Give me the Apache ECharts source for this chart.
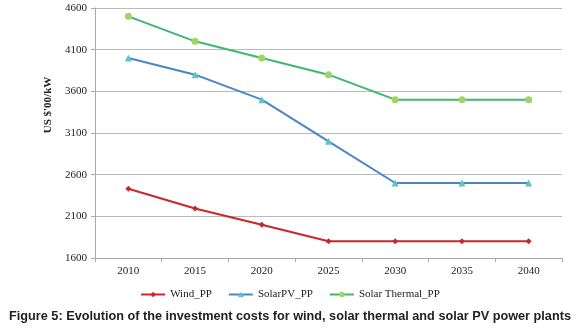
<!DOCTYPE html>
<html>
<head>
<meta charset="utf-8">
<script src="https://cdn.jsdelivr.net/npm/echarts@6/dist/echarts.min.js"></script>
<style>
html,body{margin:0;padding:0;background:#fff;}
#c{width:580px;height:330px;}
</style>
</head>
<body>
<div id="c"></div>
<script>
var years = ['2010','2015','2020','2025','2030','2035','2040'];
var windPP = [2430, 2195, 2000, 1800, 1800, 1800, 1800];
var solarPV = [4000, 3800, 3500, 3000, 2500, 2500, 2500];
var solarThermal = [4500, 4200, 4000, 3800, 3500, 3500, 3500];
var yTicks = {min: 1600, max: 4600, interval: 500};

var chart = echarts.init(document.getElementById('c'));
var serif = 'Liberation Serif';
chart.setOption({
  animation: false,
  backgroundColor: '#fff',
  grid: {left: 95, right: 18, top: 8, bottom: 72},
  title: {
    text: 'Figure 5: Evolution of the investment costs for wind, solar thermal and solar PV power plants',
    left: 'center', top: 305,
    textStyle: {fontFamily: 'Liberation Sans', fontWeight: 'bold', fontSize: 12.7, color: '#222'}
  },
  legend: {
    top: 284, left: 'center', itemGap: 16, itemWidth: 24, itemHeight: 7,
    textStyle: {fontFamily: serif, fontSize: 11, color: '#222'},
    data: ['Wind_PP', 'SolarPV_PP', 'Solar Thermal_PP']
  },
  xAxis: {
    type: 'category', data: years, boundaryGap: true,
    axisLine: {lineStyle: {color: '#aaa'}},
    axisTick: {show: true, length: 4, lineStyle: {color: '#aaa'}},
    axisLabel: {fontFamily: serif, fontSize: 11, color: '#222', margin: 8}
  },
  yAxis: {
    type: 'value', min: yTicks.min, max: yTicks.max, interval: yTicks.interval,
    name: "US $'00/kW", nameLocation: 'middle', nameGap: 38, nameRotate: 90,
    nameTextStyle: {fontFamily: serif, fontWeight: 'bold', fontSize: 11, color: '#222',
                    padding: [0, 0, 0, 56]},
    axisLine: {show: true, lineStyle: {color: '#aaa'}},
    axisTick: {show: true, length: 4, lineStyle: {color: '#aaa'}},
    axisLabel: {fontFamily: serif, fontSize: 11, color: '#222', margin: 8,
                formatter: function (v) { return String(v); }},
    splitLine: {lineStyle: {color: '#bbb', width: 1}}
  },
  series: [
    {name: 'Wind_PP', type: 'line', data: windPP, symbol: 'diamond', symbolSize: 6,
     lineStyle: {color: '#c8282c', width: 2}, itemStyle: {color: '#c8282c'}},
    {name: 'SolarPV_PP', type: 'line', data: solarPV, symbol: 'triangle', symbolSize: 7,
     lineStyle: {color: '#4a86c6', width: 2}, itemStyle: {color: '#5cc6c0'}},
    {name: 'Solar Thermal_PP', type: 'line', data: solarThermal, symbol: 'circle', symbolSize: 7,
     lineStyle: {color: '#3cb870', width: 2}, itemStyle: {color: '#a0d468'}}
  ]
});
</script>
</body>
</html>
